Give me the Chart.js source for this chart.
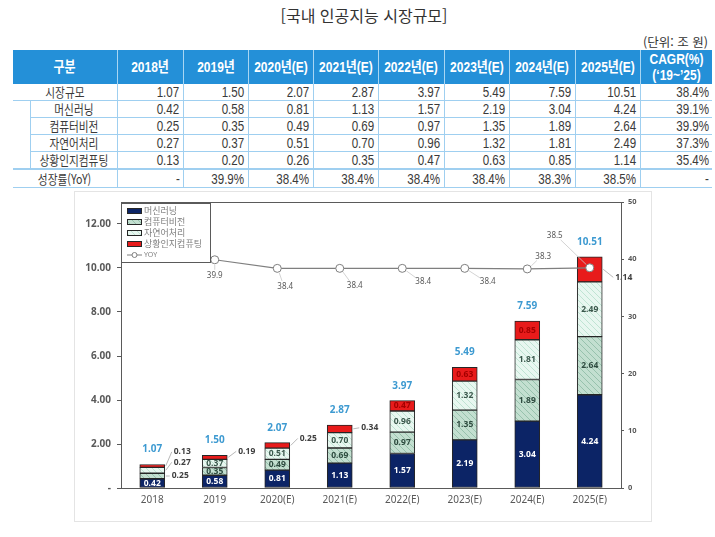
<!DOCTYPE html>
<html lang="ko">
<head>
<meta charset="utf-8">
<script src="https://cdn.jsdelivr.net/npm/chart.js@4.4.1/dist/chart.umd.min.js"></script>
<style>
body { margin:0; width:715px; height:537px; background:#fff; position:relative; overflow:hidden;
       font-family:"Liberation Sans","Noto Sans CJK KR",sans-serif; color:#3a3a3a; }
#title { position:absolute; top:3px; left:0; width:728px; text-align:center; font-family:"Noto Sans CJK KR"; font-size:16px; color:#333; }
#unit { position:absolute; top:32px; right:7px; font-family:"Noto Sans CJK KR"; font-size:12.5px; color:#333; }
#tbl { position:absolute; left:13px; top:50px; width:699px; border-collapse:collapse; table-layout:fixed; }
#tbl th { background:#2490d8; color:#fff; font-weight:bold; font-size:15px; height:34px; padding:0;
          border-left:1px solid #a9d6f3; line-height:16px; }
#tbl th:first-child { border-left:none; }
#tbl th .h { width:200%; margin-left:-50%; text-align:center; white-space:nowrap; transform:scaleX(0.8); }
#tbl td { height:16px; padding:0 3px 0 0; font-size:14.5px; line-height:16px; text-align:right;
          border-left:1px solid #9fcff0; border-bottom:1px solid #9fcff0; white-space:nowrap; }
#tbl td .n { display:inline-block; transform:scaleX(0.8); transform-origin:right center; }
#tbl td.name { text-align:center; padding:0; }
#tbl td.first { border-left:none; }
#tbl td.pad { border:none; }
#tbl tr.yoy td { border-top:2px solid #9fcff0; height:17px; }
#tbl .k { display:inline-block; transform:scaleX(0.82); font-family:"Noto Sans CJK KR"; font-size:13px; }
#frame { position:absolute; left:74px; top:191px; width:576px; height:329px; border:1px solid #e4e4e4; }
#wrap { position:absolute; left:0; top:190px; width:715px; height:347px; }
</style>
</head>
<body>
<div id="title">[국내 인공지능 시장규모]</div>
<div id="unit">(단위: 조 원)</div>
<table id="tbl"></table>
<div id="frame"></div>
<div id="wrap"><canvas id="myChart" width="715" height="347"></canvas></div>
<script>
// table + chart values
const years = ['2018년', '2019년', '2020년(E)', '2021년(E)', '2022년(E)', '2023년(E)', '2024년(E)', '2025년(E)'];
const xLabels = ['2018', '2019', '2020(E)', '2021(E)', '2022(E)', '2023(E)', '2024(E)', '2025(E)'];
const segNames = ['머신러닝', '컴퓨터비전', '자연어처리', '상황인지컴퓨팅'];
const marketSize = [1.07, 1.50, 2.07, 2.87, 3.97, 5.49, 7.59, 10.51];
const machineLearning = [0.42, 0.58, 0.81, 1.13, 1.57, 2.19, 3.04, 4.24];
const computerVision = [0.25, 0.35, 0.49, 0.69, 0.97, 1.35, 1.89, 2.64];
const languageProc = [0.27, 0.37, 0.51, 0.70, 0.96, 1.32, 1.81, 2.49];
const contextTable = [0.13, 0.20, 0.26, 0.35, 0.47, 0.63, 0.85, 1.14];
const contextChart = [0.13, 0.19, 0.25, 0.34, 0.47, 0.63, 0.85, 1.14];
const yoy = [null, 39.9, 38.4, 38.4, 38.4, 38.4, 38.3, 38.5];
const cagr = ['38.4%', '39.1%', '39.9%', '37.3%', '35.4%', '-'];

// ---- table ----
const colW = [66, 65, 65, 65, 66, 65, 66, 65];
let html = '<colgroup><col style="width:17px"><col style="width:87px">';
colW.forEach(w => html += '<col style="width:' + w + 'px">');
html += '<col style="width:72px"></colgroup>';
html += '<tr><th colspan="2"><div class="h">구분</div></th>';
years.forEach(y => html += '<th><div class="h">' + y + '</div></th>');
html += '<th><div class="h">CAGR(%)<br>(‘19~’25)</div></th></tr>';

function cell(s) { return '<td><span class="n">' + s + '</span></td>'; }
function numCells(arr, last) {
    let s = '';
    arr.forEach(v => s += cell(v.toFixed(2)));
    return s + cell(last);
}
html += '<tr><td class="name first" colspan="2"><span class="k">시장규모</span></td>' + numCells(marketSize, cagr[0]) + '</tr>';
[machineLearning, computerVision, languageProc, contextTable].forEach((arr, k) => {
    html += '<tr><td class="pad"></td><td class="name"><span class="k">' + segNames[k] + '</span></td>' + numCells(arr, cagr[k + 1]) + '</tr>';
});
html += '<tr class="yoy"><td class="name first" colspan="2"><span class="k">성장률(YoY)</span></td>';
yoy.forEach(v => html += cell(v === null ? '-' : v.toFixed(1) + '%'));
html += cell(cagr[5]) + '</tr>';
document.getElementById('tbl').innerHTML = html;

// ---- chart ----
const ctx = document.getElementById('myChart');
const g2d = ctx.getContext('2d');

function hatch(base, line) {
    const c = document.createElement('canvas');
    c.width = 6; c.height = 6;
    const g = c.getContext('2d');
    g.fillStyle = base;
    g.fillRect(0, 0, 6, 6);
    g.strokeStyle = line;
    g.lineWidth = 1;
    g.beginPath();
    for (let k = -6; k <= 6; k += 6) { g.moveTo(k, 0); g.lineTo(k + 6, 6); }
    g.stroke();
    return g2d.createPattern(c, 'repeat');
}

const fills = ['#0c2466', hatch('#c3dfd0', '#97c2ad'), hatch('#e8f7f0', '#bfe4d3'), '#e81b1b'];
const inColors = ['#ffffff', '#2f4c40', '#3b584c', '#a30000'];
// label placement for small segments: "index-dataset": [dx, dy]
const outside = { '0-1': [28, 0], '0-2': [30, -8], '0-3': [30, -14], '1-3': [32, -6], '2-3': [31, -7], '3-3': [30, -1], '7-3': [34, 8] };
const yoyOffset = [null, [0, 16], [8, 18], [15, 17], [21, 13], [23, 13], [16, -12], [-35, -32]];

const labelPlugin = {
    id: 'labels',
    afterDatasetsDraw(chart) {
        const c = chart.ctx;
        c.save();
        c.textAlign = 'center';
        c.textBaseline = 'middle';
        for (let d = 0; d < 4; d++) {
            chart.getDatasetMeta(d).data.forEach((bar, i) => {
                const txt = chart.data.datasets[d].data[i].toFixed(2);
                const cy = (bar.y + bar.base) / 2;
                const off = outside[i + '-' + d];
                c.font = 'bold 8.5px "Noto Sans"';
                if (off) {
                    const lx = bar.x + off[0], ly = cy + off[1];
                    const w = c.measureText(txt).width;
                    c.strokeStyle = '#a6a6a6';
                    c.lineWidth = 0.8;
                    c.beginPath();
                    c.moveTo(bar.x + bar.width / 2 + 1, cy);
                    c.lineTo(lx - w / 2 - 2, ly);
                    c.stroke();
                    c.fillStyle = '#404040';
                    c.fillText(txt, lx, ly);
                } else {
                    c.fillStyle = inColors[d];
                    c.fillText(txt, bar.x, cy);
                }
            });
        }
        c.font = 'bold 10px "Noto Sans"';
        c.fillStyle = '#3d9ad1';
        chart.getDatasetMeta(3).data.forEach((bar, i) => {
            c.fillText(marketSize[i].toFixed(2), bar.x, bar.y - 15);
        });
        c.font = '8px "Noto Sans"';
        chart.getDatasetMeta(4).data.forEach((pt, i) => {
            const off = yoyOffset[i];
            if (!off || yoy[i] === null) return;
            const lx = pt.x + off[0], ly = pt.y + off[1];
            const len = Math.hypot(off[0], off[1]);
            const ux = off[0] / len, uy = off[1] / len;
            c.strokeStyle = '#c8c8c8';
            c.lineWidth = 0.8;
            c.beginPath();
            c.moveTo(pt.x + ux * 5, pt.y + uy * 5);
            c.lineTo(lx - ux * 8, ly - uy * 6);
            c.stroke();
            c.fillStyle = '#595959';
            c.fillText(yoy[i].toFixed(1), lx, ly);
        });
        c.restore();
    },
    afterDraw(chart) {
        const c = chart.ctx, a = chart.chartArea;
        c.save();
        c.strokeStyle = '#5a5a5a';
        c.lineWidth = 1;
        c.strokeRect(a.left + 0.5, a.top + 0.5, a.right - a.left, a.bottom - a.top);
        // legend box
        const lx = a.left, ly = a.top + 1;
        c.fillStyle = '#fff';
        c.fillRect(lx, ly, 89, 59);
        c.strokeRect(lx + 0.5, ly + 0.5, 89, 59);
        c.textBaseline = 'middle';
        chart.data.datasets.forEach((ds, k) => {
            const y = ly + 8 + k * 11;
            c.font = '9px "Noto Sans CJK KR"';
            if (ds.type === 'line') {
                c.strokeStyle = ds.borderColor;
                c.beginPath(); c.moveTo(lx + 6, y); c.lineTo(lx + 21, y); c.stroke();
                c.fillStyle = '#fff';
                c.beginPath(); c.arc(lx + 13.5, y, 2.5, 0, Math.PI * 2); c.fill(); c.stroke();
                c.font = '7px "Noto Sans"';
            } else {
                c.fillStyle = ds.backgroundColor;
                c.fillRect(lx + 6, y - 3, 15, 6);
                c.strokeStyle = '#262626';
                c.strokeRect(lx + 6.5, y - 2.5, 14, 5);
            }
            c.fillStyle = '#808080';
            c.fillText(ds.label, lx + 23, y);
        });
        c.restore();
    }
};

const barSets = [machineLearning, computerVision, languageProc, contextChart].map((arr, k) => ({
    label: segNames[k],
    data: arr,
    backgroundColor: fills[k],
    borderColor: '#262626',
    borderWidth: 1,
    borderSkipped: false,
    barThickness: 25,
    yAxisID: 'y',
    order: 1
}));

new Chart(ctx, {
    type: 'bar',
    data: {
        labels: xLabels,
        datasets: [...barSets, {
            type: 'line',
            label: 'YOY',
            data: yoy,
            yAxisID: 'y1',
            borderColor: '#7f7f7f',
            borderWidth: 1.2,
            pointRadius: 4,
            pointBackgroundColor: '#fff',
            pointBorderColor: '#7f7f7f',
            pointBorderWidth: 1,
            order: 0
        }]
    },
    options: {
        responsive: false,
        animation: false,
        devicePixelRatio: 1,
        layout: { padding: { top: 7, left: 0, right: 64, bottom: 24 } },
        plugins: { legend: { display: false }, tooltip: { enabled: false } },
        scales: {
            x: {
                stacked: true,
                grid: { display: false, drawTicks: false },
                border: { display: false },
                ticks: { font: { size: 10, family: '"Noto Sans"' }, color: '#595959', padding: 6, maxRotation: 0 },
                afterFit: s => { s.height = 25; }
            },
            y: {
                stacked: true,
                min: 0,
                max: 13,
                grid: { drawOnChartArea: false, tickLength: 4, color: '#595959' },
                border: { display: false },
                ticks: {
                    stepSize: 2,
                    padding: 6,
                    color: '#595959',
                    font: { size: 10, weight: 'bold', family: '"Noto Sans"' },
                    callback: v => v === 0 ? '-' : v.toFixed(2)
                },
                afterBuildTicks: s => { s.ticks = s.ticks.filter(t => t.value % 2 === 0); },
                afterFit: s => { s.width = 121; }
            },
            y1: {
                position: 'right',
                min: 0,
                max: 50,
                grid: { drawOnChartArea: false, tickLength: 3, color: '#595959' },
                border: { display: false },
                ticks: { stepSize: 10, padding: 4, color: '#595959', font: { size: 7.5, weight: 'bold', family: '"Noto Sans"' } },
                afterFit: s => { s.width = 30; }
            }
        }
    },
    plugins: [labelPlugin]
});
</script>
</body>
</html>
